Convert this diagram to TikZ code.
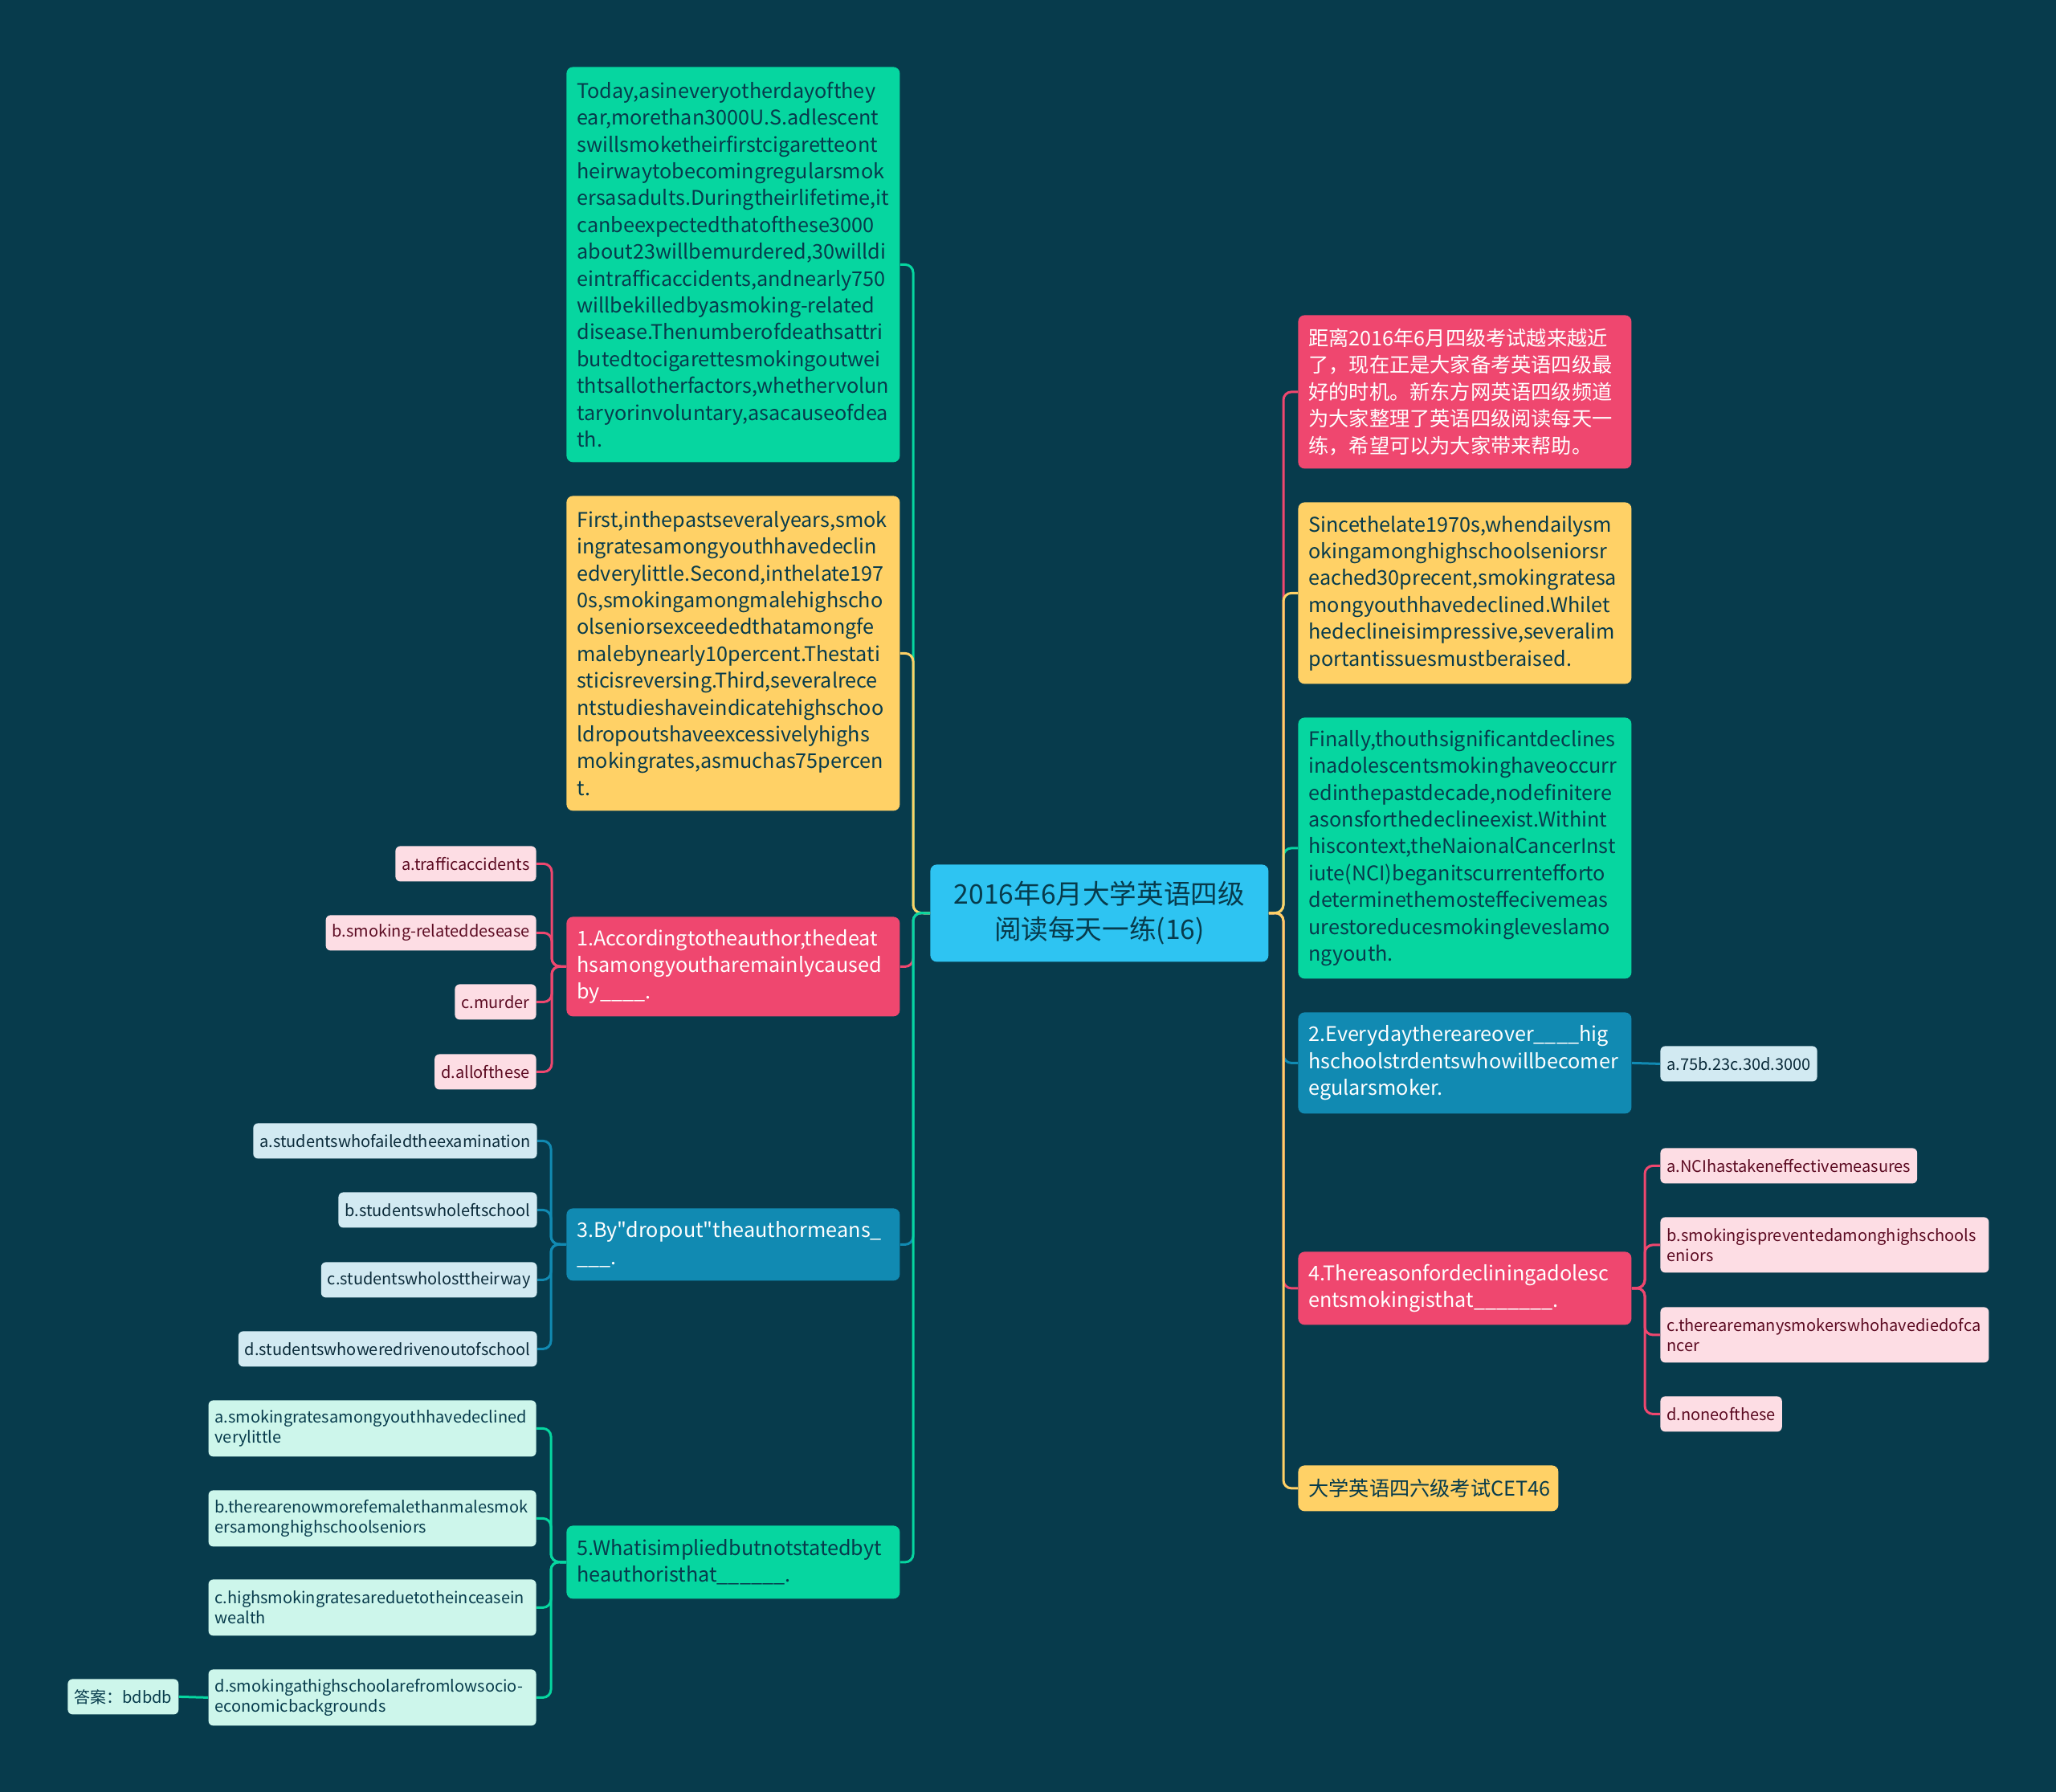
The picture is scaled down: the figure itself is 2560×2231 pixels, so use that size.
\documentclass[tikz,border=0pt]{standalone}
\usepackage{fontspec}
\newfontfamily\nf{Noto Sans CJK SC}
\definecolor{bg}{HTML}{073B4C}
\definecolor{cpink}{HTML}{EF476F}
\definecolor{cyellow}{HTML}{FFD166}
\definecolor{cgreen}{HTML}{06D6A0}
\definecolor{cblue}{HTML}{118AB2}
\definecolor{ccenter}{HTML}{2EC4F2}
\definecolor{dk}{HTML}{073B4C}
\definecolor{lpink}{HTML}{FDDDE4}
\definecolor{lblue}{HTML}{D2EAF2}
\definecolor{lgreen}{HTML}{CDF6EB}
\definecolor{maroon}{HTML}{5C0B22}
\definecolor{dkblue}{HTML}{0B2B3A}
\begin{document}
\begin{tikzpicture}[x=0.5pt,y=-0.5pt,
  box/.style={rounded corners=4pt, anchor=north west, inner xsep=6.5pt, inner ysep=0pt,
    align=left, text width=194.5pt, font=\nf\fontsize{12.6pt}{16.7pt}\selectfont},
  opt/.style={rounded corners=3pt, inner xsep=4pt, inner ysep=0pt, align=left,
    minimum height=22pt, font=\nf\fontsize{10pt}{12.4pt}\selectfont},
  e/.style={line width=1.5pt, rounded corners=5pt}]
\fill[bg] (0,0) rectangle (2560,2231);
\useasboundingbox (0,0) rectangle (2560,2231);

% centre
\node[rounded corners=4pt, anchor=north west, fill=ccenter, text=dk, inner sep=0pt,
  minimum width=210.5pt, minimum height=60.5pt, align=center,
  font=\nf\fontsize{16.8pt}{22pt}\selectfont] (C) at (1158,1076)
  {2016年6月大学英语四级\\阅读每天一练(16)};

% left main branches
\node[box, fill=cgreen, text=dk, minimum height=246pt] (L1) at (705,83) {Today,asineveryotherdayofthey\\ear,morethan3000U.S.adlescent\\swillsmoketheirfirstcigaretteont\\heirwaytobecomingregularsmok\\ersasadults.Duringtheirlifetime,it\\canbeexpectedthatofthese3000\\about23willbemurdered,30willdi\\eintrafficaccidents,andnearly750\\willbekilledbyasmoking\mbox{-}related\\disease.Thenumberofdeathsattri\\butedtocigarettesmokingoutwei\\thtsallotherfactors,whethervolun\\taryorinvoluntary,asacauseofdea\\th.};
\node[box, fill=cyellow, text=dk, minimum height=196pt] (L2) at (705,617) {First,inthepastseveralyears,smok\\ingratesamongyouthhavedeclin\\edverylittle.Second,inthelate197\\0s,smokingamongmalehighscho\\olseniorsexceededthatamongfe\\malebynearly10percent.Thestati\\sticisreversing.Third,severalrece\\ntstudieshaveindicatehighschoo\\ldropoutshaveexcessivelyhighs\\mokingrates,asmuchas75percen\\t.};
\node[box, fill=cpink, text=white, minimum height=62pt] (L3) at (705,1141) {1.Accordingtotheauthor,thedeat\\hsamongyoutharemainlycaused\\by\_\_\_\_.};
\node[box, fill=cblue, text=white, minimum height=45pt] (L4) at (705,1504) {3.By"dropout"theauthormeans\_\\\_\_\_.};
\node[box, fill=cgreen, text=dk, minimum height=45.5pt] (L5) at (705,1899) {5.Whatisimpliedbutnotstatedbyt\\heauthoristhat\_\_\_\_\_\_.};

% right main branches
\node[box, fill=cpink, text=white, minimum height=95.5pt] (R1) at (1616,392) {距离2016年6月四级考试越来越近\\了，现在正是大家备考英语四级最\\好的时机。新东方网英语四级频道\\为大家整理了英语四级阅读每天一\\练，希望可以为大家带来帮助。};
\node[box, fill=cyellow, text=dk, minimum height=113pt] (R2) at (1616,625) {Sincethelate1970s,whendailysm\\okingamonghighschoolseniorsr\\eached30precent,smokingratesa\\mongyouthhavedeclined.Whilet\\hedeclineisimpressive,severalim\\portantissuesmustberaised.};
\node[box, fill=cgreen, text=dk, minimum height=162.5pt] (R3) at (1616,893) {Finally,thouthsignificantdeclines\\inadolescentsmokinghaveoccurr\\edinthepastdecade,nodefinitere\\asonsforthedeclineexist.Withint\\hiscontext,theNaionalCancerInst\\iute(NCI)beganitscurrentefforto\\determinethemosteffecivemeas\\urestoreducesmokingleveslamo\\ngyouth.};
\node[box, fill=cblue, text=white, minimum height=63pt] (R4) at (1616,1260) {2.Everydaythereareover\_\_\_\_hig\\hschoolstrdentswhowillbecomer\\egularsmoker.};
\node[box, fill=cpink, text=white, minimum height=45.5pt] (R5) at (1616,1558) {4.Thereasonfordecliningadolesc\\entsmokingisthat\_\_\_\_\_\_\_.};
\node[box, fill=cyellow, text=dk, minimum height=28.5pt, text width=149pt] (R6) at (1616,1824) {大学英语四六级考试CET46};

% Q1 options
\node[opt, fill=lpink, text=maroon, anchor=north east] (o1a) at (668,1053) {a.trafficaccidents};
\node[opt, fill=lpink, text=maroon, anchor=north east] (o1b) at (668,1139) {b.smoking\mbox{-}relateddesease};
\node[opt, fill=lpink, text=maroon, anchor=north east] (o1c) at (668,1225) {c.murder};
\node[opt, fill=lpink, text=maroon, anchor=north east] (o1d) at (668,1312) {d.allofthese};
% Q3 options
\node[opt, fill=lblue, text=dkblue, anchor=north east] (o3a) at (669,1398) {a.studentswhofailedtheexamination};
\node[opt, fill=lblue, text=dkblue, anchor=north east] (o3b) at (669,1484) {b.studentswholeftschool};
\node[opt, fill=lblue, text=dkblue, anchor=north east] (o3c) at (669,1571) {c.studentswholosttheirway};
\node[opt, fill=lblue, text=dkblue, anchor=north east] (o3d) at (669,1657) {d.studentswhoweredrivenoutofschool};
% Q5 options
\node[opt, fill=lgreen, text=dk, anchor=north east, text width=196pt, minimum height=35pt] (o5a) at (668,1743) {a.smokingratesamongyouthhavedeclined\\verylittle};
\node[opt, fill=lgreen, text=dk, anchor=north east, text width=196pt, minimum height=35pt] (o5b) at (668,1855) {b.therearenowmorefemalethanmalesmok\\ersamonghighschoolseniors};
\node[opt, fill=lgreen, text=dk, anchor=north east, text width=196pt, minimum height=35pt] (o5c) at (668,1966) {c.highsmokingratesareduetotheinceasein\\wealth};
\node[opt, fill=lgreen, text=dk, anchor=north east, text width=196pt, minimum height=35pt] (o5d) at (668,2078) {d.smokingathighschoolarefromlowsocio\mbox{-}\\economicbackgrounds};
\node[opt, fill=lgreen, text=dk, anchor=north west] (ans) at (84,2090) {答案：bdbdb};
% Q2 option
\node[opt, fill=lblue, text=dkblue, anchor=north west] (o2) at (2067,1302) {a.75b.23c.30d.3000};
% Q4 options
\node[opt, fill=lpink, text=maroon, anchor=north west] (o4a) at (2067,1429) {a.NCIhastakeneffectivemeasures};
\node[opt, fill=lpink, text=maroon, anchor=north west, text width=196.5pt, minimum height=34.5pt] (o4b) at (2067,1515) {b.smokingispreventedamonghighschools\\eniors};
\node[opt, fill=lpink, text=maroon, anchor=north west, text width=196.5pt, minimum height=34.5pt] (o4c) at (2067,1627) {c.therearemanysmokerswhohavediedofca\\ncer};
\node[opt, fill=lpink, text=maroon, anchor=north west] (o4d) at (2067,1738) {d.noneofthese};

% trunks
\coordinate (lt) at (1137,1136.5);
\coordinate (rt) at (1598,1136.5);
\coordinate (t1) at (687,1203);
\coordinate (t3) at (686,1549);
\coordinate (t5) at (686,1944.5);
\coordinate (t4) at (2048,1603.5);

% left connectors
\draw[e, cgreen] (C.west) -- (lt) |- (L1.east);
\draw[e, cpink] (C.west) -- (lt) |- (L3.east);
\draw[e, cblue] (C.west) -- (lt) |- (L4.east);
\draw[e, cyellow] (C.west) -- (lt) |- (L2.east);
\draw[e, cgreen] (C.west) -- (lt) |- (L5.east);
% right connectors
\draw[e, cpink] (C.east) -- (rt) |- (R1.west);
\draw[e, cgreen] (C.east) -- (rt) |- (R3.west);
\draw[e, cblue] (C.east) -- (rt) |- (R4.west);
\draw[e, cpink] (C.east) -- (rt) |- (R5.west);
\draw[e, cyellow] (C.east) -- (rt) |- (R2.west);
\draw[e, cyellow] (C.east) -- (rt) |- (R6.west);
% option connectors
\foreach \o in {o1a,o1b,o1c,o1d} \draw[e, cpink] (L3.west) -- (t1) |- (\o.east);
\foreach \o in {o3a,o3b,o3c,o3d} \draw[e, cblue] (L4.west) -- (t3) |- (\o.east);
\foreach \o in {o5a,o5b,o5c,o5d} \draw[e, cgreen] (L5.west) -- (t5) |- (\o.east);
\foreach \o in {o4a,o4b,o4c,o4d} \draw[e, cpink] (R5.east) -- (t4) |- (\o.west);
\draw[e, cblue] (R4.east) -- (o2.west);
\draw[e, cgreen] (o5d.west) -- (ans.east);
\end{tikzpicture}
\end{document}
